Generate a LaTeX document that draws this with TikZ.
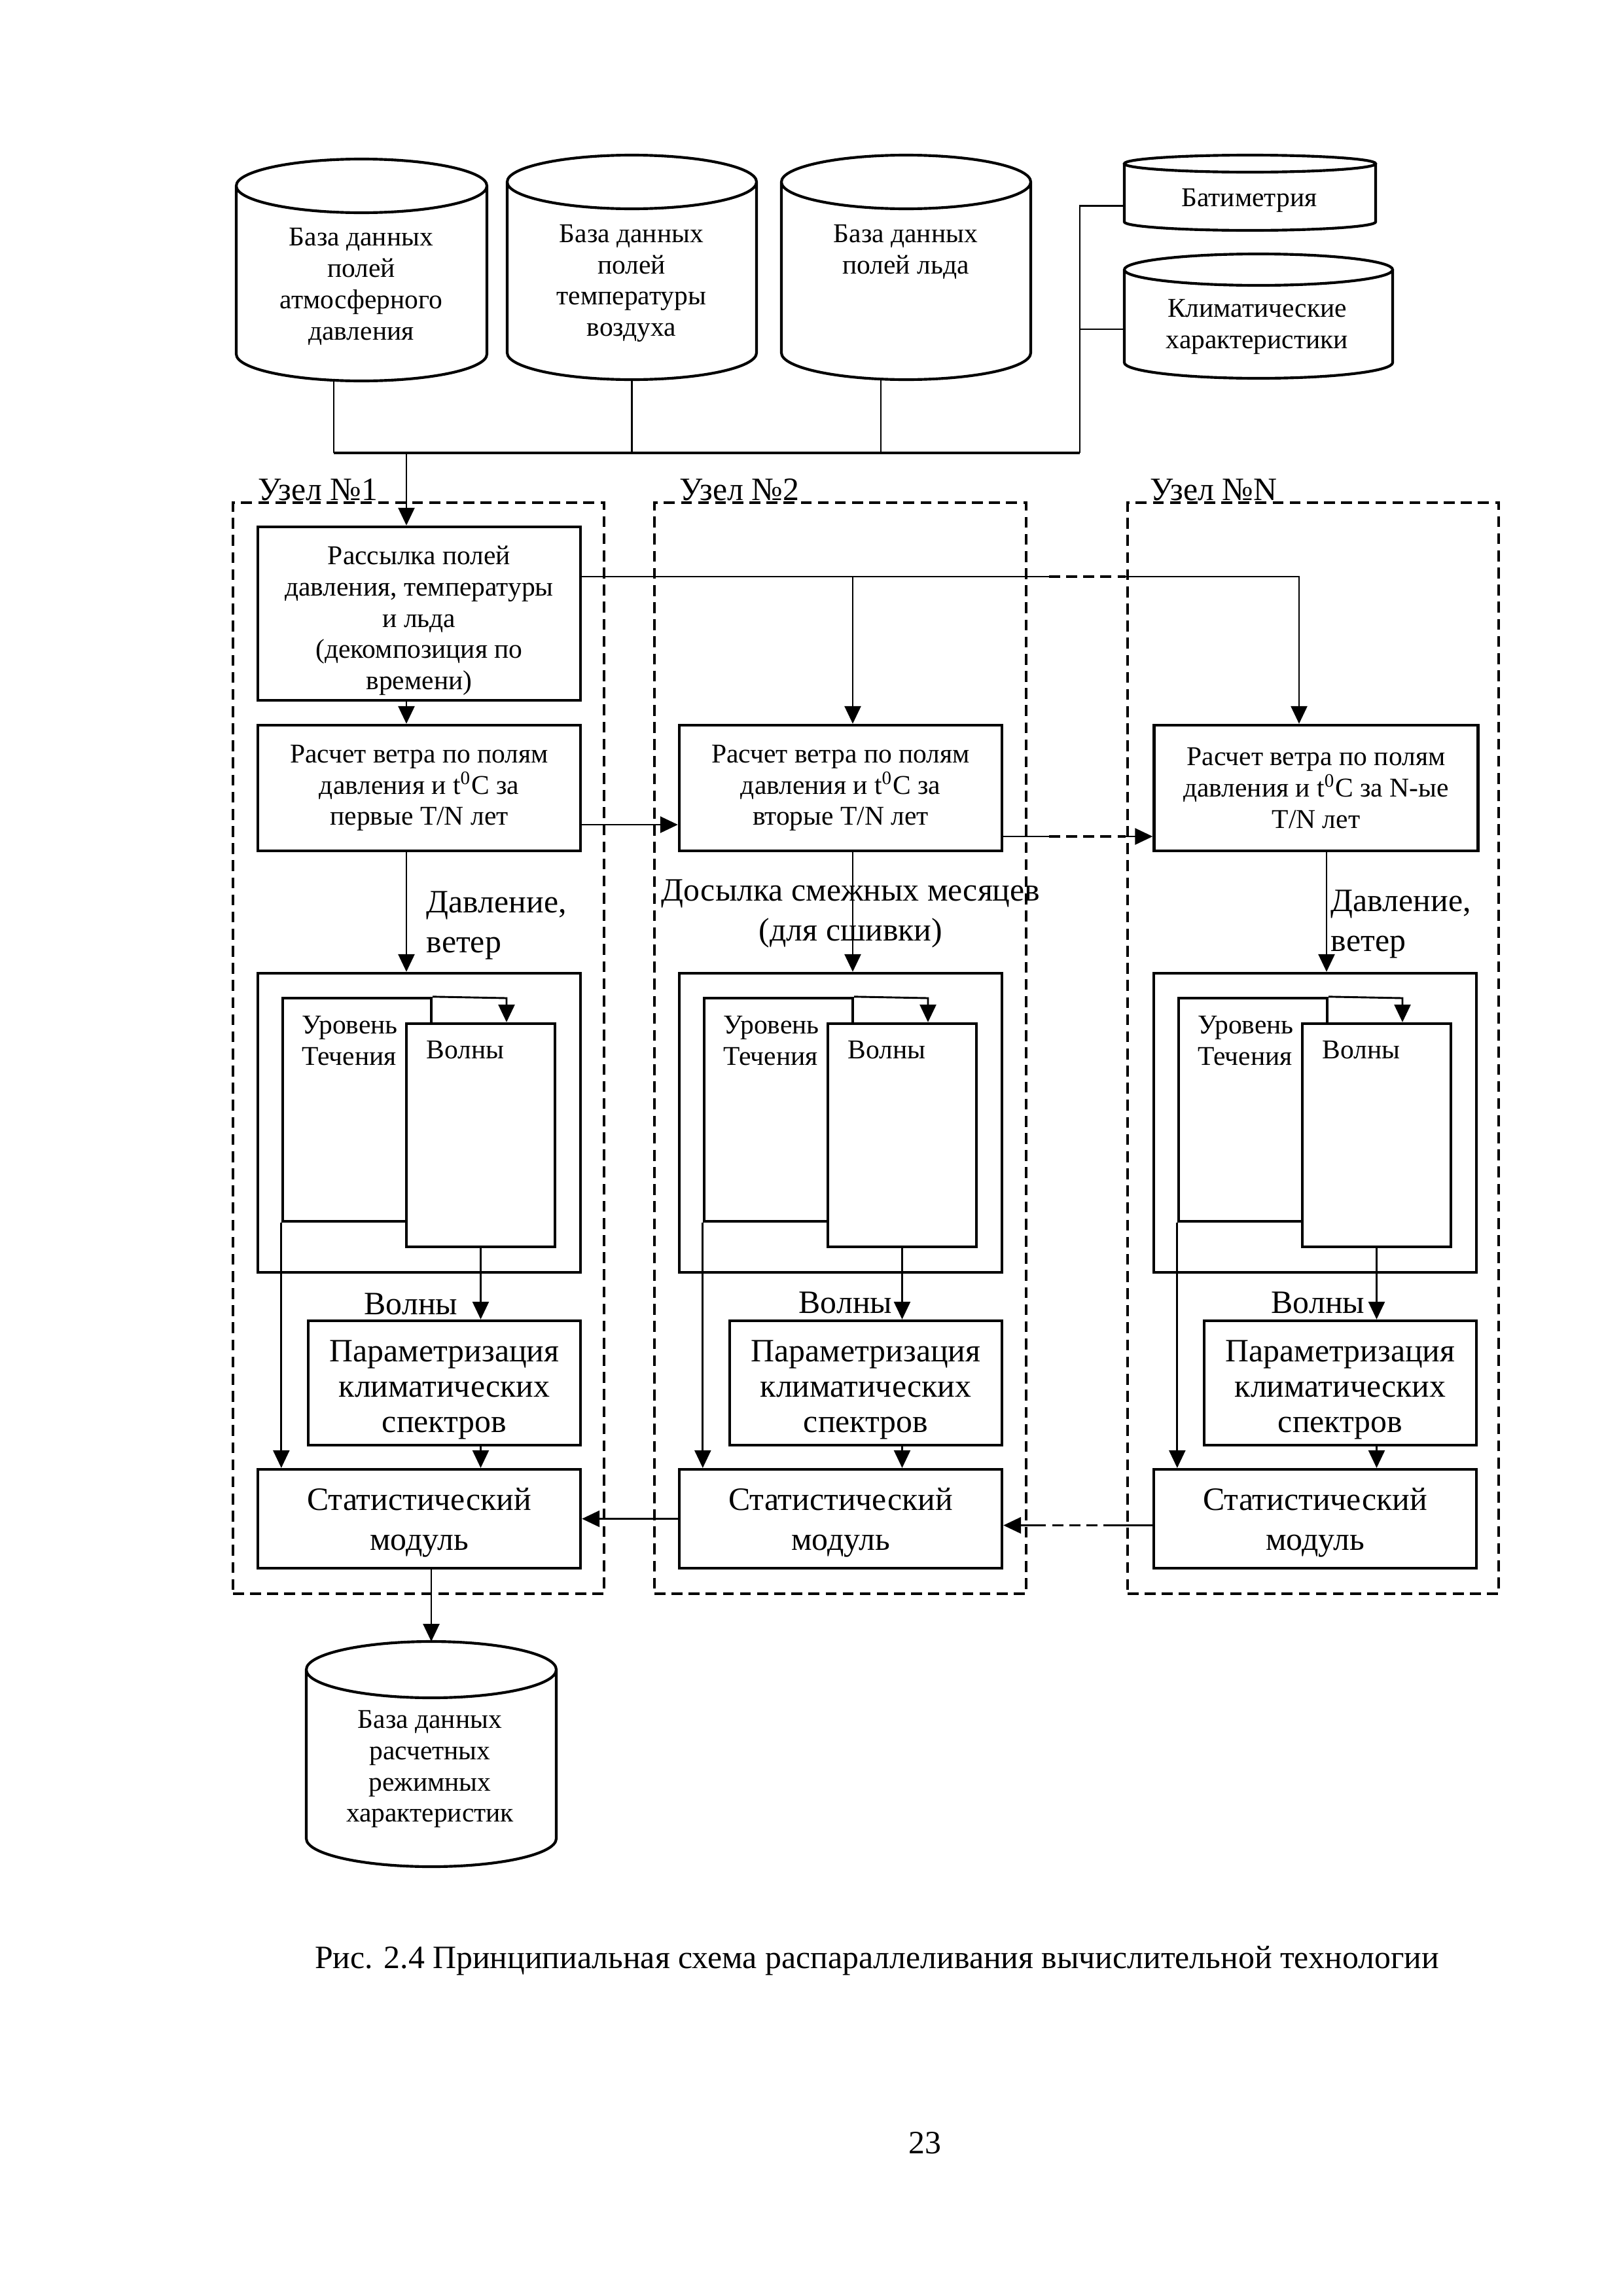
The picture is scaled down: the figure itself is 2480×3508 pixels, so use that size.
\documentclass[tikz,border=0pt]{standalone}
\usepackage{fontspec}
\setmainfont{Liberation Serif}
\usetikzlibrary{positioning, arrows.meta, calc}

\newcommand{\pxu}{0.0846774mm}

% outline of a database cylinder round a named node (#2 = half height of the cap, px)
\newcommand{\drawdb}[2]{%
  \draw[dbline] let \p1=($(#1.north east)-(#1.north west)$) in
    ($(#1.north west)+(0,#2)$) -- ($(#1.south west)+(0,-#2)$)
    arc[start angle=180, end angle=360, x radius=0.5*\x1, y radius=#2*\pxu]
    -- ($(#1.north east)+(0,#2)$)
    ($(#1.north)+(0,#2)$) ellipse[x radius=0.5*\x1, y radius=#2*\pxu];
}

\begin{document}
\begin{tikzpicture}[x=\pxu, y=-\pxu]
  \tikzset{
    block/.style={
      draw,
      line width=1.05pt,
      inner sep=0pt,
      align=center,
      font=\fontsize{10}{11.5}\selectfont
    },
    bigblock/.style={
      block,
      font=\fontsize{12}{14.5}\selectfont
    },
    db/.style={
      rectangle,
      inner sep=0pt,
      outer sep=0pt
    },
    dbline/.style={
      line width=1pt
    },
    dbtext/.style={
      inner sep=0pt,
      align=center,
      font=\fontsize{10}{11.5}\selectfont
    },
    biglabel/.style={
      inner sep=0pt,
      align=left,
      font=\fontsize{12}{14.5}\selectfont
    },
    uzel/.style={
      draw,
      line width=0.8pt,
      dash pattern=on 4pt off 2.3pt
    },
    conn/.style={
      line width=0.7pt
    },
    gap/.style={
      line width=0.8pt,
      dash pattern=on 4pt off 2.3pt
    },
    arr/.style={
      conn,
      -{Triangle[length=6.5pt,width=6pt]}
    }
  }
  \useasboundingbox (0,0) rectangle (2480,3508);

  % Node frames (dashed)
  \node[uzel, minimum width=567*\pxu, minimum height=1667*\pxu] (uzelA) at (639.5,1601.5) {};
  \node[biglabel, anchor=base west] (uzelAt) at (394,764) {Узел №1};
  \node[uzel, minimum width=568*\pxu, minimum height=1667*\pxu] (uzelB) at (1284,1601.5) {};
  \node[biglabel, anchor=base west] (uzelBt) at (1038,764) {Узел №2};
  \node[uzel, minimum width=567*\pxu, minimum height=1667*\pxu] (uzelN) at (2006.5,1601.5) {};
  \node[biglabel, anchor=base west] (uzelNt) at (1757,764) {Узел №N};

  % Input databases
  \node[db, minimum width=383*\pxu, minimum height=339*\pxu] (dbA) at (552.5,412.5) {};
  \drawdb{dbA}{41}
  \node[dbtext] (dbAt) at (552,438) {База данных\\полей\\атмосферного\\давления};
  \node[db, minimum width=381*\pxu, minimum height=343*\pxu] (dbB) at (965.5,408.5) {};
  \drawdb{dbB}{41}
  \node[dbtext] (dbBt) at (965,433) {База данных\\полей\\температуры\\воздуха};
  \node[db, minimum width=381*\pxu, minimum height=343*\pxu] (dbC) at (1384.5,408.5) {};
  \drawdb{dbC}{41}
  \node[dbtext] (dbCt) at (1384,385) {База данных\\полей льда};
  \node[db, minimum width=384*\pxu, minimum height=115*\pxu] (batim) at (1910,294.5) {};
  \drawdb{batim}{13}
  \node[dbtext] (batimt) at (1909,306) {Батиметрия};
  \node[db, minimum width=410*\pxu, minimum height=190*\pxu] (klim) at (1923,483) {};
  \drawdb{klim}{24}
  \node[dbtext] (klimt) at (1921,499) {Климатические\\характеристики};

  % Bus to node 1
  \coordinate (busL) at (510,692);
  \coordinate (busR) at (1650,692);
  \coordinate (jC) at (1346,692);
  \coordinate (dropA) at (621,692);
  \draw[conn] (busL |- dbA.south) -- (busL);
  \draw[conn] (dbB.south) -- (dbB.south |- busL);
  \draw[conn] (jC |- dbC.south) -- (jC);
  \draw[line width=1.1pt] (busL) -- (busR);
  \draw[conn] (busR) |- ($(batim.west)+(0,20)$);
  \draw[conn] (busR |- klim.west) ++(0,20) -- ($(klim.west)+(0,20)$);

  % Node 1
  \node[block, minimum width=493*\pxu, minimum height=265*\pxu] (send) at (640.5,937.5) {\rule{0pt}{12pt}Рассылка полей\\давления, температуры\\и льда\\(декомпозиция по\\времени)};
  \node[block, minimum width=493*\pxu, minimum height=192*\pxu] (calcA) at (640.5,1204) {Расчет ветра по полям\\давления и t\textsuperscript{0}C за\\первые T/N лет};
  \node[block, minimum width=493*\pxu, minimum height=457*\pxu] (modelA) at (640.5,1715.5) {};
  \node[block, minimum width=227*\pxu, minimum height=341*\pxu] (levelA) at (545.5,1695.5) {};
  \node[block, fill=white, minimum width=227*\pxu, minimum height=341*\pxu] (waveA) at (734.5,1734.5) {};
  \node[dbtext, anchor=north west, align=left] (levelAt) at ($(levelA.north west)+(31,29)$) {Уровень\\Течения};
  \node[dbtext, anchor=north west] (waveAt) at ($(waveA.north west)+(32,28)$) {Волны};
  \node[bigblock, font=\fontsize{12}{13}\selectfont, minimum width=416*\pxu, minimum height=190*\pxu] (paramA) at (679,2113) {\rule{0pt}{13pt}Параметризация\\климатических\\спектров};
  \node[bigblock, minimum width=493*\pxu, minimum height=151*\pxu] (statA) at (640.5,2320.5) {\rule{0pt}{11pt}Статистический\\модуль};

  \draw[arr] (dropA) -- (send.north -| dropA);
  \draw[arr] (send.south -| dropA) -- (calcA.north -| dropA);
  \draw[arr] (calcA.south -| dropA) -- (modelA.north -| dropA);
  \node[biglabel, anchor=west] (windA) at (651,1414) {Давление,\\ветер};
  \coordinate (lwA) at (774,1525);
  \draw[arr] (levelA.north east) -- (lwA) -- (lwA |- waveA.north);
  \draw[arr] (waveA.south) -- (paramA.north -| waveA.south);
  \node[biglabel, anchor=base east] (wlA) at (700,2008) {Волны};
  \draw[arr] (paramA.south -| waveA.south) -- (statA.north -| waveA.south);
  \draw[arr] (levelA.south west) -- (statA.north -| levelA.south west);

  % Node 2
  \node[block, minimum width=493*\pxu, minimum height=192*\pxu] (calcB) at (1284.5,1204) {Расчет ветра по полям\\давления и t\textsuperscript{0}C за\\вторые T/N лет};
  \node[block, minimum width=493*\pxu, minimum height=457*\pxu] (modelB) at (1284.5,1715.5) {};
  \node[block, minimum width=227*\pxu, minimum height=341*\pxu] (levelB) at (1189.5,1695.5) {};
  \node[block, fill=white, minimum width=227*\pxu, minimum height=341*\pxu] (waveB) at (1378.5,1734.5) {};
  \node[dbtext, anchor=north west, align=left] (levelBt) at ($(levelB.north west)+(31,29)$) {Уровень\\Течения};
  \node[dbtext, anchor=north west] (waveBt) at ($(waveB.north west)+(32,28)$) {Волны};
  \node[bigblock, font=\fontsize{12}{13}\selectfont, minimum width=416*\pxu, minimum height=190*\pxu] (paramB) at (1323,2113) {\rule{0pt}{13pt}Параметризация\\климатических\\спектров};
  \node[bigblock, minimum width=493*\pxu, minimum height=151*\pxu] (statB) at (1284.5,2320.5) {\rule{0pt}{11pt}Статистический\\модуль};

  \coordinate (splitB) at (1303,881);
  \draw[arr] (splitB) -- (calcB.north -| splitB);
  \draw[arr] (calcB.south -| splitB) -- (modelB.north -| splitB);
  \node[biglabel, align=center] (sewB) at (1300,1396) {Досылка смежных месяцев\\(для сшивки)};
  \coordinate (lwB) at (1418,1525);
  \draw[arr] (levelB.north east) -- (lwB) -- (lwB |- waveB.north);
  \draw[arr] (waveB.south) -- (paramB.north -| waveB.south);
  \node[biglabel, anchor=base east] (wlB) at (1364,2006) {Волны};
  \draw[arr] (paramB.south -| waveB.south) -- (statB.north -| waveB.south);
  \draw[arr] (levelB.south west) -- (statB.north -| levelB.south west);

  % Node N
  \node[block, minimum width=495*\pxu, minimum height=192*\pxu] (calcN) at (2011,1204) {Расчет ветра по полям\\давления и t\textsuperscript{0}C за N-ые\\T/N лет};
  \node[block, minimum width=493*\pxu, minimum height=457*\pxu] (modelN) at (2009.5,1715.5) {};
  \node[block, minimum width=227*\pxu, minimum height=341*\pxu] (levelN) at (1914.5,1695.5) {};
  \node[block, fill=white, minimum width=227*\pxu, minimum height=341*\pxu] (waveN) at (2103.5,1734.5) {};
  \node[dbtext, anchor=north west, align=left] (levelNt) at ($(levelN.north west)+(31,29)$) {Уровень\\Течения};
  \node[dbtext, anchor=north west] (waveNt) at ($(waveN.north west)+(32,28)$) {Волны};
  \node[bigblock, font=\fontsize{12}{13}\selectfont, minimum width=416*\pxu, minimum height=190*\pxu] (paramN) at (2048,2113) {\rule{0pt}{13pt}Параметризация\\климатических\\спектров};
  \node[bigblock, minimum width=493*\pxu, minimum height=151*\pxu] (statN) at (2009.5,2320.5) {\rule{0pt}{11pt}Статистический\\модуль};

  \coordinate (splitN) at (1985,881);
  \coordinate (dropN) at (2027,1300);
  \draw[arr] (calcN.south -| dropN) -- (modelN.north -| dropN);
  \node[biglabel, anchor=west] (windN) at (2033,1412) {Давление,\\ветер};
  \coordinate (lwN) at (2143,1525);
  \draw[arr] (levelN.north east) -- (lwN) -- (lwN |- waveN.north);
  \draw[arr] (waveN.south) -- (paramN.north -| waveN.south);
  \node[biglabel, anchor=base east] (wlN) at (2086,2006) {Волны};
  \draw[arr] (paramN.south -| waveN.south) -- (statN.north -| waveN.south);
  \draw[arr] (levelN.south west) -- (statN.north -| levelN.south west);

  % Links between nodes
  \coordinate (gapL) at (1603,881);
  \coordinate (gapR) at (1720,881);
  \draw[conn] (send.east |- splitB) -- (gapL);
  \draw[gap] (gapL) -- (gapR);
  \draw[arr] (gapR) -- (splitN) -- (calcN.north -| splitN);

  \draw[arr] ($(calcA.east)+(0,56)$) -- ($(calcB.west)+(0,56)$);
  \coordinate (cB) at ($(calcB.east)+(0,74)$);
  \draw[conn] (cB) -- (cB -| gapL);
  \draw[gap] (cB -| gapL) -- (cB -| gapR);
  \draw[arr] (cB -| gapR) -- (cB -| calcN.west);

  \draw[arr] (statB.west) -- (statA.east);
  \coordinate (sN) at ($(statN.west)+(0,10)$);
  \coordinate (gapL2) at (1583,2331);
  \coordinate (gapR2) at (1703,2331);
  \draw[conn] (sN) -- (sN -| gapR2);
  \draw[gap] (sN -| gapR2) -- (sN -| gapL2);
  \draw[arr] (sN -| gapL2) -- (sN -| statB.east);

  % Result database
  \node[db, minimum width=382*\pxu, minimum height=344*\pxu] (res) at (659,2680) {};
  \drawdb{res}{43}
  \node[dbtext] (rest) at (657,2703) {База данных\\расчетных\\режимных\\характеристик};
  \draw[arr] (statA.south -| res.north) -- (res.north);

  % Caption and page number
  \node[biglabel, anchor=base] (caption) at (1340,3007) {Рис. 2.4 Принципиальная схема распараллеливания вычислительной технологии};
  \node[biglabel, anchor=base] (pagenum) at (1413,3290) {23};
\end{tikzpicture}
\end{document}
